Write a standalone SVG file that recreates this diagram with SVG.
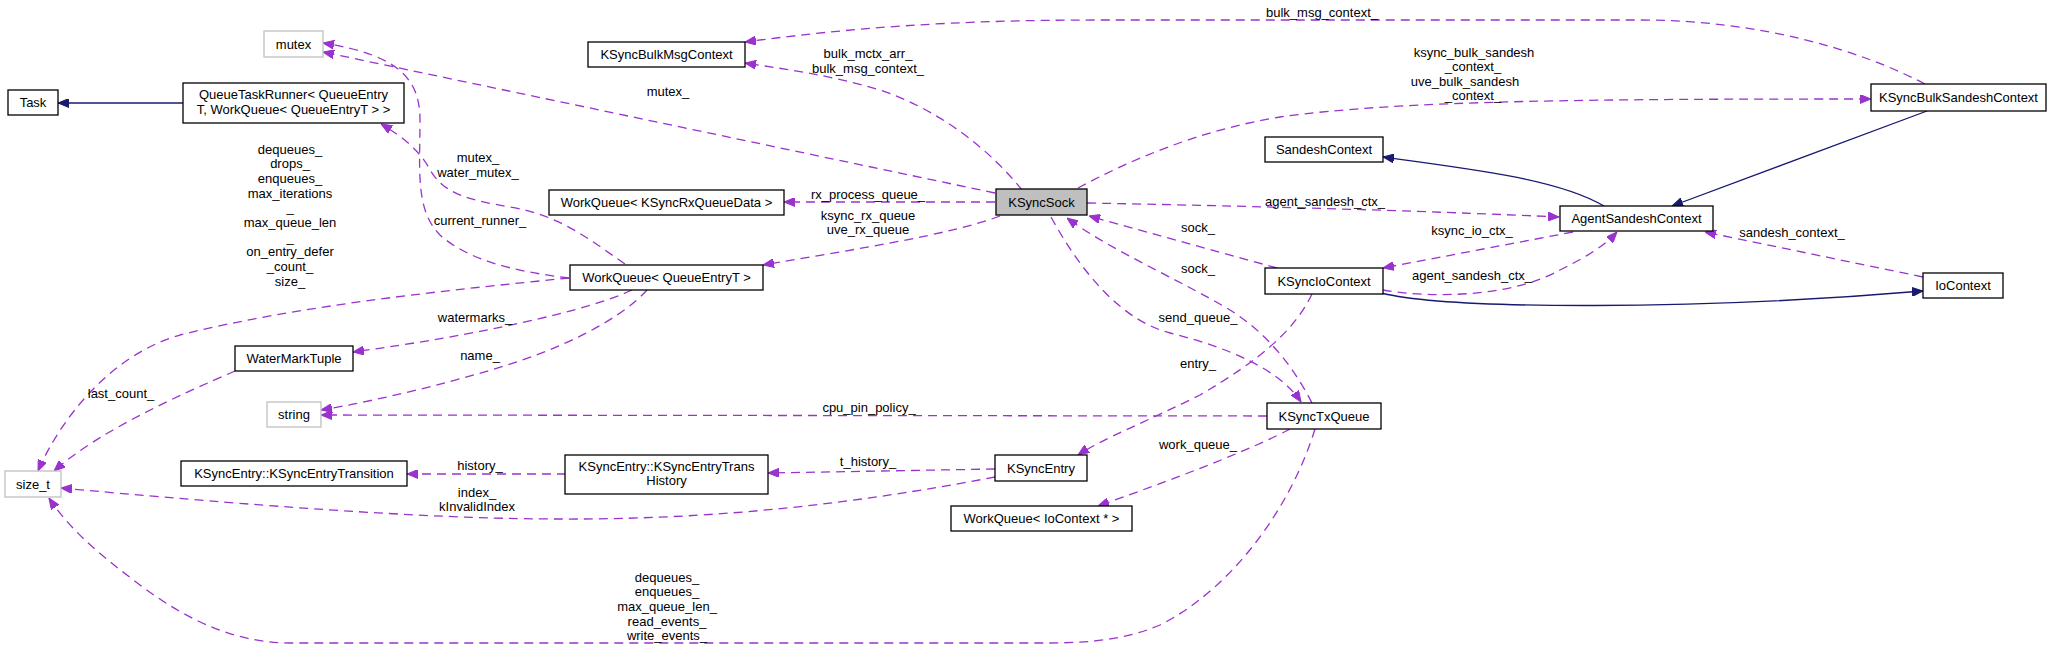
<svg xmlns="http://www.w3.org/2000/svg" width="2060" height="649" viewBox="0 0 2060 649">
<style>
text{font-family:"Liberation Sans",Arial,sans-serif;font-size:13px;fill:#000}
.n{fill:#fff;stroke:#000;stroke-width:1.3}
.g{fill:#fff;stroke:#bfbfbf;stroke-width:1.3}
.s{fill:#bfbfbf;stroke:#000;stroke-width:1.3}
.t{text-anchor:middle}
.u{fill:none;stroke:#9a32cd;stroke-width:1.3;stroke-dasharray:9,6;marker-end:url(#ap)}
.i{fill:none;stroke:#191970;stroke-width:1.3;marker-end:url(#ab)}
</style>
<defs>
<marker id="ap" viewBox="0 0 11 9" refX="11" refY="4.5" markerWidth="11" markerHeight="9" markerUnits="userSpaceOnUse" orient="auto"><path d="M0,0 L11,4.5 L0,9 z" fill="#9a32cd" stroke="#9a32cd"/></marker>
<marker id="ab" viewBox="0 0 11 9" refX="11" refY="4.5" markerWidth="11" markerHeight="9" markerUnits="userSpaceOnUse" orient="auto"><path d="M0,0 L11,4.5 L0,9 z" fill="#191970" stroke="#191970"/></marker>
</defs>
<rect width="2060" height="649" fill="#fff"/>
<g id="edges">
<path class="i" d="M183,103 L58,103"/>
<path class="i" d="M1604,206 C1560,180 1480,170 1383,157"/>
<path class="i" d="M1927,111 L1672,206"/>
<path class="i" d="M1381,293 C1450,310 1700,310 1923,291"/>
<path class="u" d="M995,193 L323,52"/>
<path class="u" d="M569,278 C520,272 470,262 440,235 C415,210 420,170 420,120 C420,80 400,55 323,43"/>
<path class="u" d="M625,264 C590,240 560,215 510,207 C470,200 445,195 430,170 C420,150 400,135 381,124"/>
<path class="u" d="M1022,190 C990,150 940,110 880,90 C830,75 790,70 745,63"/>
<path class="u" d="M1925,84 C1860,50 1760,20 1640,20 L1100,20 C950,20 850,28 745,42"/>
<path class="u" d="M1078,188 C1130,160 1200,130 1280,117 C1400,100 1600,99 1871,99"/>
<path class="u" d="M995,202 L784,202"/>
<path class="u" d="M1000,216 C950,235 850,250 763,265"/>
<path class="u" d="M1087,203 C1300,207 1450,212 1559,217"/>
<path class="u" d="M1277,268 L1089,216"/>
<path class="u" d="M1312,403 C1295,370 1270,335 1230,310 C1180,280 1110,250 1067,218"/>
<path class="u" d="M1051,217 C1080,270 1120,320 1170,333 C1230,348 1280,370 1301,402"/>
<path class="u" d="M1573,232 L1383,268"/>
<path class="u" d="M1383,290 C1430,298 1510,298 1560,270 C1590,255 1605,245 1617,232"/>
<path class="u" d="M1923,277 L1705,232"/>
<path class="u" d="M1312,294 C1295,330 1260,360 1200,395 C1150,420 1100,440 1078,455"/>
<path class="u" d="M647,290 C620,320 560,350 491,370 C440,385 380,400 321,410"/>
<path class="u" d="M1267,416 L321,415"/>
<path class="u" d="M632,290 C590,310 480,335 353,352"/>
<path class="u" d="M569,278 C450,290 300,305 180,335 C110,355 60,420 38,471"/>
<path class="u" d="M235,371 C180,395 100,430 54,471"/>
<path class="u" d="M566,474 L407,474"/>
<path class="u" d="M995,469 L768,473"/>
<path class="u" d="M995,477 C900,495 750,520 560,519 C450,519 300,510 61,488"/>
<path class="u" d="M1315,429 C1290,510 1230,590 1160,625 C1120,642 1080,643 1040,643 L290,643 C230,643 180,615 140,585 C100,555 70,530 49,498"/>
<path class="u" d="M1290,429 C1260,445 1200,470 1098,506"/>
<text class="t" x="668" y="96">mutex_</text>
<text class="t" x="478" y="161.5">mutex_</text>
<text class="t" x="478" y="176.5">water_mutex_</text>
<text class="t" x="480" y="224.5">current_runner_</text>
<text class="t" x="868" y="57.5">bulk_mctx_arr_</text>
<text class="t" x="868" y="72.5">bulk_msg_context_</text>
<text class="t" x="1322" y="16.5">bulk_msg_context_</text>
<text class="t" x="1474" y="56.5">ksync_bulk_sandesh</text>
<text class="t" x="1473" y="71">_context_</text>
<text class="t" x="1465" y="85.5">uve_bulk_sandesh</text>
<text class="t" x="1473" y="100">_context_</text>
<text class="t" x="868" y="198.5">rx_process_queue_</text>
<text class="t" x="868" y="219.5">ksync_rx_queue</text>
<text class="t" x="868" y="233.5">uve_rx_queue</text>
<text class="t" x="1325" y="205.5">agent_sandesh_ctx_</text>
<text class="t" x="1198" y="231.5">sock_</text>
<text class="t" x="1198" y="272.5">sock_</text>
<text class="t" x="1198" y="321.5">send_queue_</text>
<text class="t" x="1472" y="234.5">ksync_io_ctx_</text>
<text class="t" x="1472" y="279.5">agent_sandesh_ctx_</text>
<text class="t" x="1792" y="236.5">sandesh_context_</text>
<text class="t" x="1198" y="367.5">entry_</text>
<text class="t" x="480" y="359.5">name_</text>
<text class="t" x="869" y="411.5">cpu_pin_policy_</text>
<text class="t" x="475" y="321.5">watermarks_</text>
<text class="t" x="290" y="153.5">dequeues_<tspan x="290" dy="14.67">drops_</tspan><tspan x="290" dy="14.67">enqueues_</tspan><tspan x="290" dy="14.67">max_iterations</tspan><tspan x="290" dy="14.67">_</tspan><tspan x="290" dy="14.67">max_queue_len</tspan><tspan x="290" dy="14.67">_</tspan><tspan x="290" dy="14.67">on_entry_defer</tspan><tspan x="290" dy="14.67">_count_</tspan><tspan x="290" dy="14.67">size_</tspan></text>
<text class="t" x="121" y="397.5">last_count_</text>
<text class="t" x="480" y="469.5">history_</text>
<text class="t" x="868" y="465.5">t_history_</text>
<text class="t" x="477" y="496.5">index_</text>
<text class="t" x="477" y="510.5">kInvalidIndex</text>
<text class="t" x="667" y="581.5">dequeues_<tspan x="667" dy="14.67">enqueues_</tspan><tspan x="667" dy="14.67">max_queue_len_</tspan><tspan x="667" dy="14.67">read_events_</tspan><tspan x="667" dy="14.67">write_events_</tspan></text>
<text class="t" x="1198" y="448.5">work_queue_</text>
</g>
<g id="node-mutex"><rect class="g" x="264" y="31" width="59" height="26"/><text class="t" x="293.5" y="48.5">mutex</text></g>
<g id="node-KSyncBulkMsgContext"><rect class="n" x="588" y="42" width="157" height="25"/><text class="t" x="666.5" y="59">KSyncBulkMsgContext</text></g>
<g id="node-Task"><rect class="n" x="8" y="90" width="50" height="25"/><text class="t" x="33" y="107">Task</text></g>
<g id="node-QueueTaskRunner"><rect class="n" x="183" y="83" width="221" height="40"/><text class="t" x="293.5" y="99">QueueTaskRunner&lt; QueueEntry</text><text class="t" x="293.5" y="113.5">T, WorkQueue&lt; QueueEntryT &gt; &gt;</text></g>
<g id="node-WorkQueueRx"><rect class="n" x="549" y="190" width="235" height="25"/><text class="t" x="666.5" y="207">WorkQueue&lt; KSyncRxQueueData &gt;</text></g>
<g id="node-KSyncSock"><rect class="s" x="996" y="189" width="91" height="26"/><text class="t" x="1041.5" y="206.5">KSyncSock</text></g>
<g id="node-WorkQueueEntry"><rect class="n" x="570" y="265" width="193" height="25"/><text class="t" x="666.5" y="282">WorkQueue&lt; QueueEntryT &gt;</text></g>
<g id="node-WaterMarkTuple"><rect class="n" x="235" y="346" width="118" height="25"/><text class="t" x="294" y="363">WaterMarkTuple</text></g>
<g id="node-string"><rect class="g" x="267" y="402" width="54" height="25"/><text class="t" x="294" y="419">string</text></g>
<g id="node-size_t"><rect class="g" x="5" y="471" width="56" height="26"/><text class="t" x="33" y="488.5">size_t</text></g>
<g id="node-KSyncEntryTransition"><rect class="n" x="181" y="461" width="226" height="25"/><text class="t" x="294" y="478">KSyncEntry::KSyncEntryTransition</text></g>
<g id="node-KSyncEntryTransHistory"><rect class="n" x="565" y="455" width="203" height="39"/><text class="t" x="666.5" y="470.5">KSyncEntry::KSyncEntryTrans</text><text class="t" x="666.5" y="485">History</text></g>
<g id="node-KSyncEntry"><rect class="n" x="995" y="455" width="92" height="26"/><text class="t" x="1041" y="472.5">KSyncEntry</text></g>
<g id="node-WorkQueueIo"><rect class="n" x="951" y="506" width="181" height="25"/><text class="t" x="1041.5" y="523">WorkQueue&lt; IoContext * &gt;</text></g>
<g id="node-KSyncBulkSandeshContext"><rect class="n" x="1871" y="84" width="175" height="27"/><text class="t" x="1958.5" y="102">KSyncBulkSandeshContext</text></g>
<g id="node-SandeshContext"><rect class="n" x="1265" y="137" width="118" height="25"/><text class="t" x="1324" y="154">SandeshContext</text></g>
<g id="node-AgentSandeshContext"><rect class="n" x="1560" y="206" width="153" height="25"/><text class="t" x="1636.5" y="223">AgentSandeshContext</text></g>
<g id="node-KSyncIoContext"><rect class="n" x="1265" y="268" width="118" height="26"/><text class="t" x="1324" y="285.5">KSyncIoContext</text></g>
<g id="node-IoContext"><rect class="n" x="1923" y="273" width="80" height="25"/><text class="t" x="1963" y="290">IoContext</text></g>
<g id="node-KSyncTxQueue"><rect class="n" x="1267" y="403" width="114" height="26"/><text class="t" x="1324" y="420.5">KSyncTxQueue</text></g>
</svg>
